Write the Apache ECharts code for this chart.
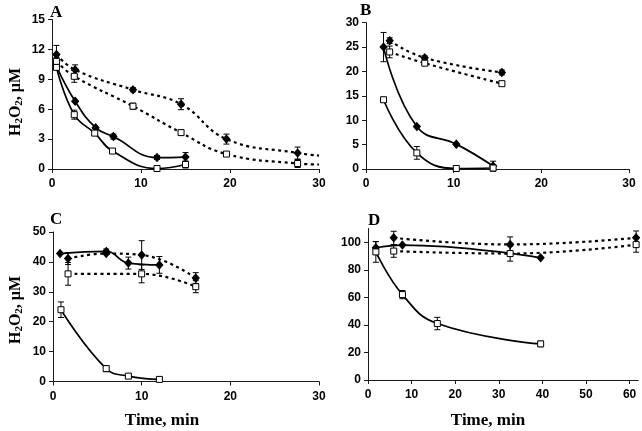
<!DOCTYPE html>
<html><head><meta charset="utf-8">
<script src="https://cdn.jsdelivr.net/npm/echarts@6/dist/echarts.min.js"></script>
<style>html,body{margin:0;padding:0;background:#fff}#c{width:642px;height:431px}</style>
</head><body><div id="c"></div>
<script>
// ---------- Panel A ----------
const A_solidDiamond_t = [0.5, 2.6, 4.9, 6.9, 11.8, 15.0];
const A_solidDiamond_v = [10.3, 6.8, 4.15, 3.25, 1.15, 1.2];
const A_solidDiamond_e = [0, 0, 0, 0.25, 0.2, 0.45];
const A_solidSquare_t = [0.5, 2.5, 4.8, 6.8, 11.8, 15.0];
const A_solidSquare_v = [10.2, 5.45, 3.6, 1.8, 0.05, 0.45];
const A_solidSquare_e = [0, 0.45, 0, 0, 0.2, 0.35];
const A_dotDiamond_t = [0.5, 2.6, 9.1, 14.5, 19.6, 27.6, 30];
const A_dotDiamond_v = [11.5, 9.95, 7.95, 6.5, 3.0, 1.6, 1.35];
const A_dotDiamond_e = [0.9, 0.5, 0.2, 0.55, 0.5, 0.6, null];
const A_dotSquare_t = [0.5, 2.5, 9.1, 14.5, 19.6, 27.6, 30];
const A_dotSquare_v = [10.8, 9.3, 6.3, 3.65, 1.5, 0.55, 0.45];
const A_dotSquare_e = [0.4, 0.6, 0.3, 0.25, 0.1, 0.4, null];
// ---------- Panel B ----------
const B_solidDiamond_t = [2.0, 5.8, 10.3, 14.5];
const B_solidDiamond_v = [25.0, 8.7, 5.1, 0.6];
const B_solidDiamond_e = [3.0, 0, 0, 1.0];
const B_solidSquare_t = [2.0, 5.8, 10.3, 14.5];
const B_solidSquare_v = [14.2, 3.3, 0.1, 0.2];
const B_solidSquare_e = [0.5, 1.3, 0, 0.6];
const B_dotDiamond_t = [2.7, 6.7, 15.5];
const B_dotDiamond_v = [26.3, 22.8, 19.8];
const B_dotDiamond_e = [0.6, 0.4, 0.5];
const B_dotSquare_t = [2.7, 6.7, 15.5];
const B_dotSquare_v = [24.0, 21.7, 17.5];
const B_dotSquare_e = [1.2, 0.3, 0.4];
// ---------- Panel C ----------
const C_solidDiamond_t = [0.8, 6.0, 8.5, 12.0];
const C_solidDiamond_v = [42.8, 43.5, 39.6, 39.0];
const C_solidDiamond_e = [0, 0.8, 2.0, 2.8];
const C_solidSquare_t = [0.9, 6.0, 8.5, 12.0];
const C_solidSquare_v = [24.0, 4.3, 1.8, 0.7];
const C_solidSquare_e = [2.6, 1.0, 0.3, 0.2];
const C_dotDiamond_t = [1.7, 6.0, 10.0, 16.1];
const C_dotDiamond_v = [41.1, 42.8, 42.3, 34.6];
const C_dotDiamond_e = [2.0, 0, 4.8, 1.8];
const C_dotSquare_t = [1.7, 10.0, 16.1];
const C_dotSquare_v = [36.0, 36.0, 31.7];
const C_dotSquare_e = [3.8, 3.0, 2.0];
// ---------- Panel D ----------
const D_solidDiamond_t = [1.8, 7.9, 39.6];
const D_solidDiamond_v = [96.0, 98.0, 88.7];
const D_solidDiamond_e = [4.5, 0, 0];
const D_solidSquare_t = [1.8, 7.9, 15.9, 39.6];
const D_solidSquare_v = [93.0, 62.0, 41.0, 26.2];
const D_solidSquare_e = [7.5, 3.0, 4.5, 2.0];
const D_dotDiamond_t = [5.9, 32.6, 61.5];
const D_dotDiamond_v = [103.2, 98.4, 103.2];
const D_dotDiamond_e = [4.8, 5.5, 5.0];
const D_dotSquare_t = [5.9, 32.6, 61.5];
const D_dotSquare_v = [93.6, 91.8, 98.3];
const D_dotSquare_e = [4.5, 5.5, 5.5];

const xTicksABC = [0, 10, 20, 30];
const yTicksA = [0, 3, 6, 9, 12, 15];
const yTicksB = [0, 5, 10, 15, 20, 25, 30];
const yTicksC = [0, 10, 20, 30, 40, 50];
const xTicksD = [0, 10, 20, 30, 40, 50, 60];
const yTicksD = [0, 20, 40, 60, 80, 100];

const panelLetters = ['A', 'B', 'C', 'D'];

const grids = [
  {left: 52, top: 19.5, width: 267, height: 149.5},
  {left: 366, top: 22.7, width: 263, height: 146.3},
  {left: 53, top: 232, width: 266, height: 149.5},
  {left: 368, top: 228.5, width: 270.3, height: 151.5}
];

const panels = [
  {x: [0, 30, xTicksABC], y: [0, 15, yTicksA], sets: [
    [A_solidDiamond_t, A_solidDiamond_v, A_solidDiamond_e, 'd', false],
    [A_solidSquare_t, A_solidSquare_v, A_solidSquare_e, 's', false],
    [A_dotDiamond_t, A_dotDiamond_v, A_dotDiamond_e, 'd', true],
    [A_dotSquare_t, A_dotSquare_v, A_dotSquare_e, 's', true]]},
  {x: [0, 30, xTicksABC], y: [0, 30, yTicksB], sets: [
    [B_solidDiamond_t, B_solidDiamond_v, B_solidDiamond_e, 'd', false],
    [B_solidSquare_t, B_solidSquare_v, B_solidSquare_e, 's', false],
    [B_dotDiamond_t, B_dotDiamond_v, B_dotDiamond_e, 'd', true],
    [B_dotSquare_t, B_dotSquare_v, B_dotSquare_e, 's', true]]},
  {x: [0, 30, xTicksABC], y: [0, 50, yTicksC], sets: [
    [C_solidDiamond_t, C_solidDiamond_v, C_solidDiamond_e, 'd', false],
    [C_solidSquare_t, C_solidSquare_v, C_solidSquare_e, 's', false],
    [C_dotDiamond_t, C_dotDiamond_v, C_dotDiamond_e, 'd', true],
    [C_dotSquare_t, C_dotSquare_v, C_dotSquare_e, 's', true]]},
  {x: [0, 62, xTicksD], y: [0, 110, yTicksD], sets: [
    [D_solidDiamond_t, D_solidDiamond_v, D_solidDiamond_e, 'd', false],
    [D_solidSquare_t, D_solidSquare_v, D_solidSquare_e, 's', false],
    [D_dotDiamond_t, D_dotDiamond_v, D_dotDiamond_e, 'd', true],
    [D_dotSquare_t, D_dotSquare_v, D_dotSquare_e, 's', true]]}
];

const axisCol = '#1a1a1a';
const tickFont = {fontFamily: 'Liberation Sans, Arial, sans-serif', fontWeight: 'bold', fontSize: 12, color: '#000'};

function mkAxis(idx, spec, isX) {
  return {
    type: 'value', gridIndex: idx, min: spec[0], max: spec[1],
    splitLine: {show: false},
    axisLine: {show: true, onZero: false, lineStyle: {color: axisCol, width: 1}},
    axisTick: {show: true, inside: false, length: 4, customValues: spec[2], lineStyle: {color: axisCol}},
    axisLabel: Object.assign({customValues: spec[2], margin: isX ? 9 : 7}, tickFont)
  };
}

const xAxis = [], yAxis = [], series = [];
panels.forEach((p, idx) => {
  xAxis.push(mkAxis(idx, p.x, true));
  yAxis.push(mkAxis(idx, p.y, false));
  p.sets.forEach(([t, v, e, kind, dotted]) => {
    const diamond = kind === 'd';
    series.push({
      type: 'custom', xAxisIndex: idx, yAxisIndex: idx, z: 1, silent: true,
      data: t.map((x, i) => [x, v[i], e[i]]).filter(d => d[2]),
      renderItem: function (params, api) {
        const x = api.value(0), y = api.value(1), er = api.value(2);
        const top = api.coord([x, y + er]);
        const bot = api.coord([x, y - er]);
        const st = {stroke: '#000', lineWidth: 1};
        return {type: 'group', children: [
          {type: 'line', shape: {x1: top[0], y1: top[1], x2: bot[0], y2: bot[1]}, style: st},
          {type: 'line', shape: {x1: top[0] - 3, y1: top[1], x2: top[0] + 3, y2: top[1]}, style: st},
          {type: 'line', shape: {x1: bot[0] - 3, y1: bot[1], x2: bot[0] + 3, y2: bot[1]}, style: st}
        ]};
      }
    });
    series.push({
      type: 'line', xAxisIndex: idx, yAxisIndex: idx, z: 3, smooth: 0.45,
      data: t.map((x, i) => e[i] === null ? {value: [x, v[i]], symbol: 'none'} : {value: [x, v[i]]}),
      symbol: diamond ? 'diamond' : 'rect',
      symbolSize: diamond ? [7, 8] : [6, 6],
      itemStyle: {color: diamond ? '#000' : '#fff', borderColor: '#000', borderWidth: 1},
      lineStyle: {color: '#000', width: dotted ? 2.2 : 1.7, type: dotted ? [3, 3.5] : 'solid'},
      clip: true
    });
  });
});

const serif = 'Liberation Serif, Times New Roman, serif';
const graphic = [];
const letterPos = [[50, 4], [360, 2], [50, 211], [368, 212]];
panelLetters.forEach((L, i) => {
  graphic.push({type: 'text', left: letterPos[i][0], top: letterPos[i][1],
    style: {text: L, font: 'bold 17px ' + serif, fill: '#000'}});
});
[[16, 102], [16, 310]].forEach(([cx, cy]) => {
  graphic.push({type: 'text', x: cx, y: cy, rotation: Math.PI / 2,
    style: {text: 'H{s|2}O{s|2}, μM', fill: '#000', align: 'center', verticalAlign: 'middle',
      font: 'bold 16px ' + serif,
      rich: {s: {font: 'bold 11px ' + serif, padding: [7, 0, 0, 0]}}}});
});
[[162, 421], [488, 421]].forEach(([cx, cy]) => {
  graphic.push({type: 'text', x: cx, y: cy,
    style: {text: 'Time, min', font: 'bold 17px ' + serif, fill: '#000', align: 'center', verticalAlign: 'middle'}});
});

const chart = echarts.init(document.getElementById('c'), null, {renderer: 'canvas'});
chart.setOption({
  animation: false,
  backgroundColor: '#fff',
  grid: grids,
  xAxis, yAxis, series, graphic
});
</script>
</body></html>
